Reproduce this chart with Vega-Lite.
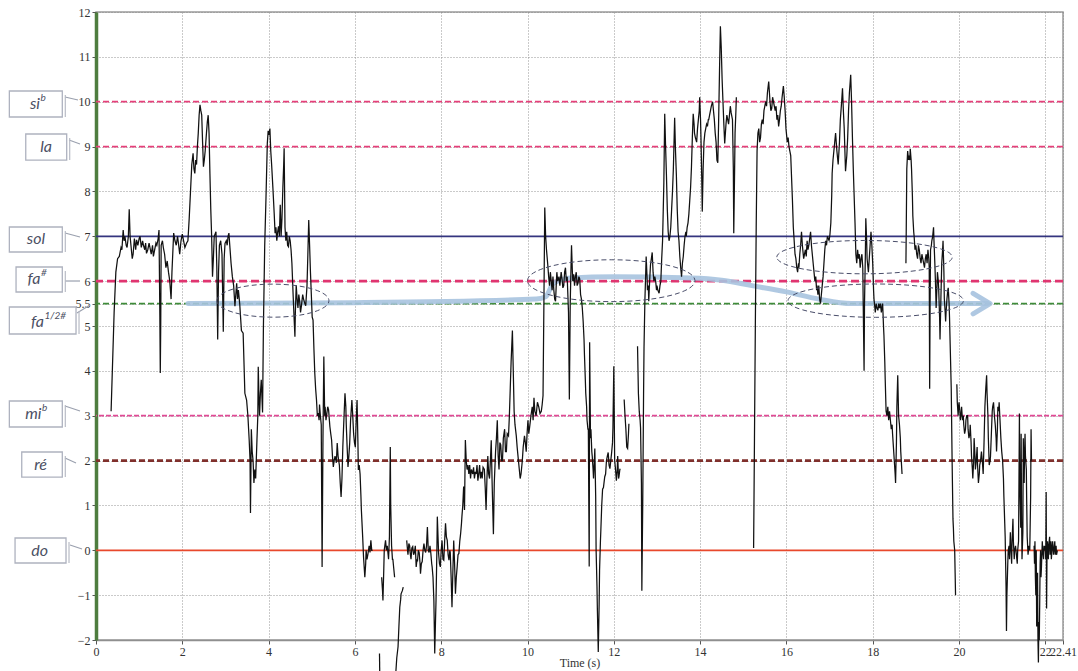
{
"$schema":"https://vega.github.io/schema/vega-lite/v6.json",
"width":967,"height":628,
"autosize":{"type":"none"},
"padding":{"left":96,"top":12,"right":15,"bottom":31},
"background":"white",
"config":{
 "view":{"stroke":"#9a9a9a","strokeWidth":1.5},
 "axis":{"labelFont":"Liberation Serif","labelFontSize":12,"labelColor":"#333333","titleFont":"Liberation Serif","titleFontSize":12,"titleFontWeight":"normal","titleColor":"#333333","gridColor":"#8a8a8a","gridDash":[1,2],"gridWidth":1,"gridOpacity":0.9,"tickColor":"#555555","tickSize":4}
},
"datasets":{
 "notes":[{"note":"si","v":10},{"note":"la","v":9},{"note":"sol","v":7},{"note":"fa#","v":6},{"note":"fa½#","v":5.5},{"note":"mi","v":3},{"note":"re","v":2},{"note":"do","v":0}],
 "labels":[
  {"label":"si","sup":"b","jx":-1.297,"ty":9.95,"bx1":-2.008,"bx2":-0.781,"by1":10.239,"by2":9.659,"cx1":-0.718,"cy1":10.105,"cx2":-0.417,"cy2":10.038},
  {"label":"la","sup":"","jx":-1.019,"ty":8.99,"bx1":-1.628,"bx2":-0.679,"by1":9.28,"by2":8.7,"cx1":-0.625,"cy1":9.146,"cx2":-0.371,"cy2":9.057},
  {"label":"sol","sup":"","jx":-1.181,"ty":6.93,"bx1":-2.008,"bx2":-0.781,"by1":7.207,"by2":6.65,"cx1":-0.718,"cy1":7.073,"cx2":-0.371,"cy2":6.984},
  {"label":"fa","sup":"#","jx":-1.286,"ty":6.04,"bx1":-1.853,"bx2":-0.781,"by1":6.315,"by2":5.758,"cx1":-0.718,"cy1":6.003,"cx2":-0.371,"cy2":6.003},
  {"label":"fa","sup":"1/2#","jx":-1.205,"ty":5.09,"bx1":-2.008,"bx2":-0.463,"by1":5.424,"by2":4.822,"cx1":-0.44,"cy1":5.29,"cx2":-0.139,"cy2":5.468},
  {"label":"mi","sup":"b","jx":-1.262,"ty":3.04,"bx1":-2.008,"bx2":-0.781,"by1":3.328,"by2":2.748,"cx1":-0.718,"cy1":3.217,"cx2":-0.371,"cy2":3.105},
  {"label":"ré","sup":"","jx":-1.135,"ty":1.9,"bx1":-1.721,"bx2":-0.781,"by1":2.191,"by2":1.633,"cx1":-0.718,"cy1":2.057,"cx2":-0.463,"cy2":1.946},
  {"label":"do","sup":"","jx":-1.112,"ty":-0.01,"bx1":-1.876,"bx2":-0.695,"by1":0.274,"by2":-0.283,"cx1":-0.602,"cy1":0.118,"cx2":-0.324,"cy2":0.029}
 ],
 "ellipses":[{"id":1,"t":4.1,"v":5.565},{"id":2,"t":11.94,"v":6.01},{"id":3,"t":17.81,"v":6.535},{"id":4,"t":18.07,"v":5.565}],
 "arrow":[{"t":2.13,"v":5.5},{"t":6.0,"v":5.52},{"t":10.2,"v":5.6},{"t":10.42,"v":5.65},{"t":10.6,"v":5.95},{"t":11.0,"v":6.07},{"t":12.0,"v":6.1},{"t":13.8,"v":6.07},{"t":14.5,"v":6.02},{"t":15.2,"v":5.9},{"t":16.0,"v":5.76},{"t":16.75,"v":5.6},{"t":17.5,"v":5.5},{"t":20.66,"v":5.5}],
 "tip":[{"t":20.72,"v":5.5}],
 "trace":[
{"t":0.35,"v":3.1,"s":1},{"t":0.42,"v":5.3,"s":1},{"t":0.46,"v":6.2,"s":1},{"t":0.5,"v":6.5,"s":1},{"t":0.54,"v":6.55,"s":1},{"t":0.58,"v":6.75,"s":1},{"t":0.6,"v":6.7,"s":1},{"t":0.63,"v":7.14,"s":1},{"t":0.65,"v":6.9,"s":1},{"t":0.67,"v":7.0,"s":1},{"t":0.7,"v":6.8,"s":1},{"t":0.72,"v":6.75,"s":1},{"t":0.75,"v":7.0,"s":1},{"t":0.77,"v":7.6,"s":1},{"t":0.79,"v":7.0,"s":1},{"t":0.81,"v":6.8,"s":1},{"t":0.84,"v":6.5,"s":1},{"t":0.86,"v":6.6,"s":1},{"t":0.89,"v":6.95,"s":1},{"t":0.92,"v":6.7,"s":1},{"t":0.94,"v":6.92,"s":1},{"t":0.97,"v":6.8,"s":1},{"t":1.0,"v":6.95,"s":1},{"t":1.02,"v":7.0,"s":1},{"t":1.05,"v":6.75,"s":1},{"t":1.08,"v":6.9,"s":1},{"t":1.1,"v":6.8,"s":1},{"t":1.13,"v":6.7,"s":1},{"t":1.15,"v":6.85,"s":1},{"t":1.17,"v":6.62,"s":1},{"t":1.2,"v":6.7,"s":1},{"t":1.23,"v":6.85,"s":1},{"t":1.25,"v":6.75,"s":1},{"t":1.28,"v":6.6,"s":1},{"t":1.31,"v":6.8,"s":1},{"t":1.33,"v":6.55,"s":1},{"t":1.36,"v":6.7,"s":1},{"t":1.39,"v":6.85,"s":1},{"t":1.41,"v":6.8,"s":1},{"t":1.44,"v":6.95,"s":1},{"t":1.46,"v":7.14,"s":1},{"t":1.48,"v":5.2,"s":1},{"t":1.49,"v":3.95,"s":1},{"t":1.5,"v":5.0,"s":1},{"t":1.51,"v":6.8,"s":1},{"t":1.54,"v":6.9,"s":1},{"t":1.56,"v":6.75,"s":1},{"t":1.59,"v":6.6,"s":1},{"t":1.62,"v":6.3,"s":1},{"t":1.65,"v":6.45,"s":1},{"t":1.68,"v":6.2,"s":1},{"t":1.71,"v":6.0,"s":1},{"t":1.74,"v":5.6,"s":1},{"t":1.76,"v":6.2,"s":1},{"t":1.8,"v":7.07,"s":1},{"t":1.83,"v":6.9,"s":1},{"t":1.86,"v":6.8,"s":1},{"t":1.89,"v":7.0,"s":1},{"t":1.91,"v":6.85,"s":1},{"t":1.94,"v":6.6,"s":1},{"t":1.97,"v":6.9,"s":1},{"t":2.0,"v":7.05,"s":1},{"t":2.03,"v":6.9,"s":1},{"t":2.06,"v":6.75,"s":1},{"t":2.1,"v":6.85,"s":1},{"t":2.13,"v":6.9,"s":1},{"t":2.16,"v":7.4,"s":1},{"t":2.19,"v":8.0,"s":1},{"t":2.22,"v":8.6,"s":1},{"t":2.25,"v":8.85,"s":1},{"t":2.27,"v":8.5,"s":1},{"t":2.29,"v":8.4,"s":1},{"t":2.31,"v":8.7,"s":1},{"t":2.33,"v":8.6,"s":1},{"t":2.35,"v":9.0,"s":1},{"t":2.37,"v":9.3,"s":1},{"t":2.39,"v":9.7,"s":1},{"t":2.41,"v":9.93,"s":1},{"t":2.43,"v":9.8,"s":1},{"t":2.45,"v":9.7,"s":1},{"t":2.47,"v":9.1,"s":1},{"t":2.49,"v":8.55,"s":1},{"t":2.51,"v":8.7,"s":1},{"t":2.53,"v":8.9,"s":1},{"t":2.56,"v":9.3,"s":1},{"t":2.58,"v":9.55,"s":1},{"t":2.6,"v":9.7,"s":1},{"t":2.62,"v":9.3,"s":1},{"t":2.64,"v":8.4,"s":1},{"t":2.66,"v":7.6,"s":1},{"t":2.68,"v":7.0,"s":1},{"t":2.7,"v":6.1,"s":1},{"t":2.72,"v":6.5,"s":1},{"t":2.74,"v":7.0,"s":1},{"t":2.78,"v":7.1,"s":1},{"t":2.8,"v":6.3,"s":1},{"t":2.82,"v":4.7,"s":1},{"t":2.84,"v":6.2,"s":1},{"t":2.86,"v":6.8,"s":1},{"t":2.89,"v":6.9,"s":1},{"t":2.92,"v":6.6,"s":1},{"t":2.95,"v":4.87,"s":1},{"t":2.97,"v":6.5,"s":1},{"t":2.99,"v":6.84,"s":1},{"t":3.02,"v":6.9,"s":1},{"t":3.04,"v":6.8,"s":1},{"t":3.06,"v":7.0,"s":1},{"t":3.08,"v":7.07,"s":1},{"t":3.1,"v":6.8,"s":1},{"t":3.13,"v":6.4,"s":1},{"t":3.16,"v":6.1,"s":1},{"t":3.19,"v":5.9,"s":1},{"t":3.22,"v":5.44,"s":1},{"t":3.24,"v":5.7,"s":1},{"t":3.26,"v":5.95,"s":1},{"t":3.28,"v":5.6,"s":1},{"t":3.3,"v":5.8,"s":1},{"t":3.33,"v":5.5,"s":1},{"t":3.35,"v":5.2,"s":1},{"t":3.37,"v":4.9,"s":1},{"t":3.41,"v":4.84,"s":1},{"t":3.45,"v":3.5,"s":1},{"t":3.49,"v":3.35,"s":1},{"t":3.52,"v":3.0,"s":1},{"t":3.55,"v":2.46,"s":1},{"t":3.57,"v":2.0,"s":1},{"t":3.58,"v":0.83,"s":1},{"t":3.6,"v":2.7,"s":1},{"t":3.62,"v":2.2,"s":1},{"t":3.64,"v":2.0,"s":1},{"t":3.66,"v":1.5,"s":1},{"t":3.68,"v":1.8,"s":1},{"t":3.7,"v":1.6,"s":1},{"t":3.73,"v":2.46,"s":1},{"t":3.75,"v":3.0,"s":1},{"t":3.76,"v":4.09,"s":1},{"t":3.78,"v":3.3,"s":1},{"t":3.79,"v":3.0,"s":1},{"t":3.81,"v":3.5,"s":1},{"t":3.83,"v":3.8,"s":1},{"t":3.85,"v":3.3,"s":1},{"t":3.86,"v":3.07,"s":1},{"t":3.88,"v":5.0,"s":1},{"t":3.91,"v":6.8,"s":1},{"t":3.94,"v":7.88,"s":1},{"t":3.97,"v":9.07,"s":1},{"t":3.99,"v":9.35,"s":1},{"t":4.01,"v":9.26,"s":1},{"t":4.03,"v":9.4,"s":1},{"t":4.05,"v":8.9,"s":1},{"t":4.07,"v":8.6,"s":1},{"t":4.1,"v":8.07,"s":1},{"t":4.13,"v":7.5,"s":1},{"t":4.15,"v":7.07,"s":1},{"t":4.17,"v":7.2,"s":1},{"t":4.19,"v":6.9,"s":1},{"t":4.21,"v":7.1,"s":1},{"t":4.23,"v":7.22,"s":1},{"t":4.25,"v":7.0,"s":1},{"t":4.27,"v":7.7,"s":1},{"t":4.29,"v":7.0,"s":1},{"t":4.31,"v":7.4,"s":1},{"t":4.33,"v":8.07,"s":1},{"t":4.35,"v":8.6,"s":1},{"t":4.36,"v":8.96,"s":1},{"t":4.38,"v":7.2,"s":1},{"t":4.4,"v":6.9,"s":1},{"t":4.42,"v":7.1,"s":1},{"t":4.44,"v":6.8,"s":1},{"t":4.46,"v":6.77,"s":1},{"t":4.48,"v":7.0,"s":1},{"t":4.5,"v":6.9,"s":1},{"t":4.52,"v":6.7,"s":1},{"t":4.54,"v":6.4,"s":1},{"t":4.57,"v":5.65,"s":1},{"t":4.59,"v":5.2,"s":1},{"t":4.61,"v":4.76,"s":1},{"t":4.62,"v":5.3,"s":1},{"t":4.64,"v":5.91,"s":1},{"t":4.66,"v":5.6,"s":1},{"t":4.68,"v":5.4,"s":1},{"t":4.7,"v":5.7,"s":1},{"t":4.72,"v":5.55,"s":1},{"t":4.74,"v":5.3,"s":1},{"t":4.76,"v":5.45,"s":1},{"t":4.79,"v":5.7,"s":1},{"t":4.81,"v":5.6,"s":1},{"t":4.84,"v":5.5,"s":1},{"t":4.86,"v":5.45,"s":1},{"t":4.89,"v":5.9,"s":1},{"t":4.91,"v":6.6,"s":1},{"t":4.93,"v":7.36,"s":1},{"t":4.95,"v":6.8,"s":1},{"t":4.97,"v":6.2,"s":1},{"t":4.99,"v":5.7,"s":1},{"t":5.01,"v":5.2,"s":1},{"t":5.03,"v":5.13,"s":1},{"t":5.05,"v":4.5,"s":1},{"t":5.07,"v":3.95,"s":1},{"t":5.09,"v":3.6,"s":1},{"t":5.11,"v":3.35,"s":1},{"t":5.13,"v":3.0,"s":1},{"t":5.15,"v":3.06,"s":1},{"t":5.17,"v":2.9,"s":1},{"t":5.18,"v":3.25,"s":1},{"t":5.2,"v":3.0,"s":1},{"t":5.22,"v":2.8,"s":1},{"t":5.24,"v":-0.37,"s":1},{"t":5.26,"v":2.5,"s":1},{"t":5.28,"v":4.32,"s":1},{"t":5.3,"v":3.0,"s":1},{"t":5.31,"v":3.2,"s":1},{"t":5.33,"v":2.9,"s":1},{"t":5.35,"v":3.05,"s":1},{"t":5.37,"v":3.2,"s":1},{"t":5.39,"v":3.13,"s":1},{"t":5.42,"v":2.76,"s":1},{"t":5.44,"v":2.6,"s":1},{"t":5.46,"v":2.46,"s":1},{"t":5.48,"v":2.1,"s":1},{"t":5.5,"v":1.86,"s":1},{"t":5.52,"v":2.0,"s":1},{"t":5.54,"v":2.1,"s":1},{"t":5.57,"v":1.95,"s":1},{"t":5.59,"v":2.39,"s":1},{"t":5.61,"v":2.1,"s":1},{"t":5.64,"v":1.9,"s":1},{"t":5.66,"v":1.5,"s":1},{"t":5.68,"v":1.19,"s":1},{"t":5.7,"v":1.6,"s":1},{"t":5.72,"v":2.3,"s":1},{"t":5.74,"v":2.8,"s":1},{"t":5.77,"v":3.5,"s":1},{"t":5.79,"v":3.2,"s":1},{"t":5.8,"v":2.8,"s":1},{"t":5.82,"v":2.3,"s":1},{"t":5.84,"v":1.86,"s":1},{"t":5.86,"v":2.1,"s":1},{"t":5.88,"v":2.4,"s":1},{"t":5.9,"v":2.9,"s":1},{"t":5.93,"v":3.35,"s":1},{"t":5.95,"v":3.0,"s":1},{"t":5.97,"v":2.6,"s":1},{"t":5.99,"v":2.4,"s":1},{"t":6.01,"v":2.3,"s":1},{"t":6.03,"v":2.9,"s":1},{"t":6.05,"v":3.35,"s":1},{"t":6.07,"v":2.4,"s":1},{"t":6.08,"v":1.79,"s":1},{"t":6.1,"v":1.9,"s":1},{"t":6.12,"v":1.7,"s":1},{"t":6.14,"v":1.2,"s":1},{"t":6.15,"v":0.9,"s":1},{"t":6.18,"v":0.3,"s":1},{"t":6.2,"v":-0.15,"s":1},{"t":6.23,"v":-0.6,"s":1},{"t":6.25,"v":-0.3,"s":1},{"t":6.26,"v":0.0,"s":1},{"t":6.28,"v":-0.2,"s":1},{"t":6.3,"v":-0.1,"s":1},{"t":6.33,"v":0.1,"s":1},{"t":6.35,"v":-0.05,"s":1},{"t":6.37,"v":0.22,"s":1},{"t":6.39,"v":0.0,"s":1},{"t":6.41,"v":0.0,"s":1},
{"t":6.62,"v":-0.6,"s":2},{"t":6.64,"v":-0.9,"s":2},{"t":6.65,"v":-1.12,"s":2},{"t":6.67,"v":-0.4,"s":2},{"t":6.68,"v":0.0,"s":2},{"t":6.71,"v":0.22,"s":2},{"t":6.73,"v":0.0,"s":2},{"t":6.75,"v":0.1,"s":2},{"t":6.77,"v":-0.1,"s":2},{"t":6.78,"v":-0.2,"s":2},{"t":6.8,"v":0.3,"s":2},{"t":6.82,"v":2.3,"s":2},{"t":6.83,"v":1.0,"s":2},{"t":6.85,"v":0.1,"s":2},{"t":6.87,"v":-0.2,"s":2},{"t":6.88,"v":-0.2,"s":2},{"t":6.9,"v":-0.4,"s":2},{"t":6.92,"v":-0.6,"s":2},
{"t":6.57,"v":-2.3,"s":3},{"t":6.575,"v":-2.7,"s":3},
{"t":6.95,"v":-2.7,"s":4},{"t":6.97,"v":-2.4,"s":4},{"t":7.0,"v":-2.15,"s":4},{"t":7.02,"v":-1.7,"s":4},{"t":7.04,"v":-1.27,"s":4},{"t":7.06,"v":-1.1,"s":4},{"t":7.07,"v":-0.97,"s":4},{"t":7.1,"v":-0.9,"s":4},{"t":7.12,"v":-0.82,"s":4},
{"t":7.2,"v":0.22,"s":5},{"t":7.22,"v":0.0,"s":5},{"t":7.23,"v":-0.1,"s":5},{"t":7.25,"v":0.15,"s":5},{"t":7.27,"v":0.1,"s":5},{"t":7.28,"v":-0.05,"s":5},{"t":7.3,"v":-0.2,"s":5},{"t":7.32,"v":0.05,"s":5},{"t":7.34,"v":0.08,"s":5},{"t":7.36,"v":-0.1,"s":5},{"t":7.38,"v":-0.05,"s":5},{"t":7.4,"v":0.1,"s":5},{"t":7.42,"v":-0.37,"s":5},{"t":7.44,"v":-0.2,"s":5},{"t":7.45,"v":-0.25,"s":5},{"t":7.47,"v":0.0,"s":5},{"t":7.49,"v":-0.05,"s":5},{"t":7.51,"v":-0.3,"s":5},{"t":7.52,"v":-0.52,"s":5},{"t":7.54,"v":-0.3,"s":5},{"t":7.56,"v":-0.25,"s":5},{"t":7.58,"v":0.0,"s":5},{"t":7.6,"v":0.15,"s":5},{"t":7.62,"v":0.0,"s":5},{"t":7.64,"v":-0.05,"s":5},{"t":7.66,"v":0.1,"s":5},{"t":7.68,"v":0.52,"s":5},{"t":7.7,"v":0.0,"s":5},{"t":7.72,"v":-0.05,"s":5},{"t":7.74,"v":0.1,"s":5},{"t":7.76,"v":-0.07,"s":5},{"t":7.78,"v":-0.3,"s":5},{"t":7.79,"v":-0.37,"s":5},{"t":7.81,"v":-0.6,"s":5},{"t":7.83,"v":-1.12,"s":5},{"t":7.85,"v":-2.3,"s":5},{"t":7.87,"v":-1.5,"s":5},{"t":7.88,"v":-1.12,"s":5},{"t":7.9,"v":0.0,"s":5},{"t":7.91,"v":0.75,"s":5},{"t":7.93,"v":0.2,"s":5},{"t":7.94,"v":-0.07,"s":5},{"t":7.96,"v":-0.3,"s":5},{"t":7.98,"v":-0.37,"s":5},{"t":8.0,"v":0.0,"s":5},{"t":8.02,"v":0.22,"s":5},{"t":8.04,"v":-0.2,"s":5},{"t":8.06,"v":-0.22,"s":5},{"t":8.08,"v":0.2,"s":5},{"t":8.1,"v":0.6,"s":5},{"t":8.12,"v":0.3,"s":5},{"t":8.14,"v":0.22,"s":5},{"t":8.16,"v":-0.1,"s":5},{"t":8.18,"v":-0.22,"s":5},{"t":8.2,"v":0.0,"s":5},{"t":8.21,"v":-0.05,"s":5},{"t":8.23,"v":-0.6,"s":5},{"t":8.25,"v":-1.27,"s":5},{"t":8.27,"v":-0.5,"s":5},{"t":8.29,"v":0.22,"s":5},{"t":8.31,"v":-0.3,"s":5},{"t":8.33,"v":-0.97,"s":5},{"t":8.35,"v":-0.6,"s":5},{"t":8.37,"v":-0.37,"s":5},{"t":8.39,"v":-0.1,"s":5},{"t":8.41,"v":-0.07,"s":5},{"t":8.43,"v":0.2,"s":5},{"t":8.45,"v":0.37,"s":5},{"t":8.47,"v":0.6,"s":5},{"t":8.48,"v":0.75,"s":5},{"t":8.5,"v":1.0,"s":5},{"t":8.52,"v":1.42,"s":5},{"t":8.54,"v":0.9,"s":5},{"t":8.56,"v":2.46,"s":5},{"t":8.58,"v":2.0,"s":5},{"t":8.6,"v":1.8,"s":5},{"t":8.62,"v":1.9,"s":5},{"t":8.64,"v":1.7,"s":5},{"t":8.66,"v":1.9,"s":5},{"t":8.68,"v":1.6,"s":5},{"t":8.7,"v":1.8,"s":5},{"t":8.73,"v":1.7,"s":5},{"t":8.75,"v":1.85,"s":5},{"t":8.77,"v":1.6,"s":5},{"t":8.79,"v":1.75,"s":5},{"t":8.81,"v":1.7,"s":5},{"t":8.83,"v":1.9,"s":5},{"t":8.85,"v":1.55,"s":5},{"t":8.87,"v":1.7,"s":5},{"t":8.89,"v":1.9,"s":5},{"t":8.91,"v":1.6,"s":5},{"t":8.93,"v":1.75,"s":5},{"t":8.95,"v":1.6,"s":5},{"t":8.97,"v":1.85,"s":5},{"t":9.0,"v":1.8,"s":5},{"t":9.02,"v":1.4,"s":5},{"t":9.04,"v":0.9,"s":5},{"t":9.06,"v":1.6,"s":5},{"t":9.08,"v":2.1,"s":5},{"t":9.1,"v":1.7,"s":5},{"t":9.12,"v":1.6,"s":5},{"t":9.14,"v":2.0,"s":5},{"t":9.16,"v":2.45,"s":5},{"t":9.18,"v":1.5,"s":5},{"t":9.21,"v":0.36,"s":5},{"t":9.23,"v":1.5,"s":5},{"t":9.26,"v":2.2,"s":5},{"t":9.28,"v":2.5,"s":5},{"t":9.3,"v":2.9,"s":5},{"t":9.32,"v":2.1,"s":5},{"t":9.34,"v":1.8,"s":5},{"t":9.36,"v":2.4,"s":5},{"t":9.38,"v":2.35,"s":5},{"t":9.4,"v":2.0,"s":5},{"t":9.42,"v":2.0,"s":5},{"t":9.44,"v":2.5,"s":5},{"t":9.47,"v":2.7,"s":5},{"t":9.49,"v":2.2,"s":5},{"t":9.51,"v":2.2,"s":5},{"t":9.53,"v":2.6,"s":5},{"t":9.56,"v":2.55,"s":5},{"t":9.58,"v":3.0,"s":5},{"t":9.6,"v":3.6,"s":5},{"t":9.62,"v":4.2,"s":5},{"t":9.65,"v":4.9,"s":5},{"t":9.67,"v":4.0,"s":5},{"t":9.69,"v":3.1,"s":5},{"t":9.71,"v":2.8,"s":5},{"t":9.74,"v":2.55,"s":5},{"t":9.76,"v":2.3,"s":5},{"t":9.79,"v":2.0,"s":5},{"t":9.81,"v":1.8,"s":5},{"t":9.83,"v":1.6,"s":5},{"t":9.85,"v":1.7,"s":5},{"t":9.88,"v":2.0,"s":5},{"t":9.9,"v":2.3,"s":5},{"t":9.93,"v":2.55,"s":5},{"t":9.95,"v":2.4,"s":5},{"t":9.97,"v":2.2,"s":5},{"t":9.99,"v":2.6,"s":5},{"t":10.01,"v":2.9,"s":5},{"t":10.03,"v":2.6,"s":5},{"t":10.05,"v":2.75,"s":5},{"t":10.08,"v":3.0,"s":5},{"t":10.11,"v":3.2,"s":5},{"t":10.13,"v":2.9,"s":5},{"t":10.15,"v":3.4,"s":5},{"t":10.17,"v":3.1,"s":5},{"t":10.2,"v":3.0,"s":5},{"t":10.23,"v":3.3,"s":5},{"t":10.26,"v":3.2,"s":5},{"t":10.29,"v":3.05,"s":5},{"t":10.32,"v":3.1,"s":5},{"t":10.34,"v":3.25,"s":5},{"t":10.36,"v":3.45,"s":5},{"t":10.38,"v":5.5,"s":5},{"t":10.4,"v":7.64,"s":5},{"t":10.42,"v":7.0,"s":5},{"t":10.44,"v":6.7,"s":5},{"t":10.47,"v":6.36,"s":5},{"t":10.49,"v":6.1,"s":5},{"t":10.51,"v":5.9,"s":5},{"t":10.53,"v":6.2,"s":5},{"t":10.55,"v":6.0,"s":5},{"t":10.57,"v":5.8,"s":5},{"t":10.59,"v":6.1,"s":5},{"t":10.61,"v":5.8,"s":5},{"t":10.63,"v":5.6,"s":5},{"t":10.65,"v":5.55,"s":5},{"t":10.67,"v":6.0,"s":5},{"t":10.68,"v":6.2,"s":5},{"t":10.7,"v":6.0,"s":5},{"t":10.73,"v":6.1,"s":5},{"t":10.75,"v":5.9,"s":5},{"t":10.78,"v":6.2,"s":5},{"t":10.8,"v":6.05,"s":5},{"t":10.82,"v":5.85,"s":5},{"t":10.84,"v":5.9,"s":5},{"t":10.86,"v":6.2,"s":5},{"t":10.88,"v":6.3,"s":5},{"t":10.9,"v":6.0,"s":5},{"t":10.92,"v":6.1,"s":5},{"t":10.95,"v":5.3,"s":5},{"t":10.97,"v":3.36,"s":5},{"t":10.99,"v":5.5,"s":5},{"t":11.01,"v":6.4,"s":5},{"t":11.02,"v":6.8,"s":5},{"t":11.04,"v":6.2,"s":5},{"t":11.05,"v":6.0,"s":5},{"t":11.07,"v":6.15,"s":5},{"t":11.09,"v":5.9,"s":5},{"t":11.11,"v":6.1,"s":5},{"t":11.13,"v":6.2,"s":5},{"t":11.15,"v":5.9,"s":5},{"t":11.17,"v":5.95,"s":5},{"t":11.19,"v":6.1,"s":5},{"t":11.21,"v":6.05,"s":5},{"t":11.23,"v":5.7,"s":5},{"t":11.25,"v":5.6,"s":5},{"t":11.27,"v":5.4,"s":5},{"t":11.29,"v":5.1,"s":5},{"t":11.31,"v":4.7,"s":5},{"t":11.32,"v":4.36,"s":5},{"t":11.34,"v":3.8,"s":5},{"t":11.35,"v":3.5,"s":5},{"t":11.37,"v":3.2,"s":5},{"t":11.38,"v":2.9,"s":5},{"t":11.4,"v":2.7,"s":5},{"t":11.41,"v":2.7,"s":5},{"t":11.43,"v":-0.36,"s":5},{"t":11.44,"v":4.64,"s":5},{"t":11.46,"v":2.5,"s":5},{"t":11.47,"v":2.7,"s":5},{"t":11.49,"v":2.2,"s":5},{"t":11.5,"v":2.1,"s":5},{"t":11.52,"v":1.8,"s":5},{"t":11.53,"v":1.6,"s":5},{"t":11.55,"v":2.0,"s":5},{"t":11.56,"v":2.27,"s":5},{"t":11.58,"v":1.2,"s":5},{"t":11.59,"v":0.0,"s":5},{"t":11.61,"v":-0.8,"s":5},{"t":11.62,"v":-1.36,"s":5},{"t":11.64,"v":-2.27,"s":5},{"t":11.66,"v":-1.2,"s":5},{"t":11.67,"v":-0.45,"s":5},{"t":11.69,"v":0.2,"s":5},{"t":11.7,"v":0.45,"s":5},{"t":11.72,"v":1.0,"s":5},{"t":11.74,"v":1.36,"s":5},{"t":11.76,"v":1.4,"s":5},{"t":11.79,"v":1.64,"s":5},{"t":11.81,"v":1.7,"s":5},{"t":11.83,"v":2.0,"s":5},{"t":11.85,"v":2.1,"s":5},{"t":11.87,"v":2.18,"s":5},{"t":11.89,"v":1.9,"s":5},{"t":11.91,"v":1.82,"s":5},{"t":11.93,"v":2.0,"s":5},{"t":11.95,"v":2.18,"s":5},{"t":11.97,"v":2.4,"s":5},{"t":11.98,"v":2.73,"s":5},{"t":12.0,"v":4.1,"s":5},{"t":12.02,"v":2.0,"s":5},{"t":12.04,"v":1.8,"s":5},{"t":12.06,"v":1.55,"s":5},{"t":12.08,"v":1.8,"s":5},{"t":12.09,"v":2.1,"s":5},{"t":12.11,"v":1.6,"s":5},{"t":12.12,"v":1.64,"s":5},{"t":12.14,"v":1.8,"s":5},{"t":12.15,"v":1.82,"s":5},
{"t":12.24,"v":3.36,"s":6},{"t":12.26,"v":3.0,"s":6},{"t":12.28,"v":2.7,"s":6},{"t":12.3,"v":2.3,"s":6},{"t":12.32,"v":2.27,"s":6},{"t":12.34,"v":2.6,"s":6},{"t":12.35,"v":2.82,"s":6},
{"t":12.55,"v":4.55,"s":7},{"t":12.57,"v":3.5,"s":7},{"t":12.59,"v":3.09,"s":7},{"t":12.61,"v":2.9,"s":7},{"t":12.62,"v":2.73,"s":7},{"t":12.64,"v":1.5,"s":7},{"t":12.65,"v":-0.9,"s":7},{"t":12.67,"v":1.0,"s":7},{"t":12.69,"v":3.5,"s":7},{"t":12.7,"v":4.5,"s":7},{"t":12.72,"v":5.55,"s":7},{"t":12.74,"v":6.2,"s":7},{"t":12.75,"v":6.55,"s":7},{"t":12.77,"v":6.1,"s":7},{"t":12.78,"v":5.8,"s":7},{"t":12.8,"v":5.9,"s":7},{"t":12.81,"v":5.55,"s":7},{"t":12.83,"v":6.0,"s":7},{"t":12.85,"v":6.36,"s":7},{"t":12.87,"v":6.5,"s":7},{"t":12.89,"v":6.64,"s":7},{"t":12.91,"v":6.2,"s":7},{"t":12.93,"v":6.0,"s":7},{"t":12.95,"v":6.1,"s":7},{"t":12.97,"v":6.0,"s":7},{"t":12.99,"v":5.8,"s":7},{"t":13.0,"v":5.9,"s":7},{"t":13.02,"v":5.8,"s":7},{"t":13.05,"v":5.73,"s":7},{"t":13.07,"v":5.9,"s":7},{"t":13.09,"v":6.0,"s":7},{"t":13.11,"v":6.5,"s":7},{"t":13.13,"v":6.9,"s":7},{"t":13.16,"v":8.2,"s":7},{"t":13.18,"v":9.73,"s":7},{"t":13.2,"v":9.0,"s":7},{"t":13.22,"v":8.36,"s":7},{"t":13.24,"v":7.6,"s":7},{"t":13.26,"v":7.1,"s":7},{"t":13.28,"v":6.9,"s":7},{"t":13.3,"v":7.0,"s":7},{"t":13.32,"v":7.2,"s":7},{"t":13.34,"v":7.6,"s":7},{"t":13.36,"v":8.0,"s":7},{"t":13.38,"v":8.5,"s":7},{"t":13.41,"v":9.64,"s":7},{"t":13.43,"v":8.9,"s":7},{"t":13.45,"v":8.36,"s":7},{"t":13.47,"v":7.6,"s":7},{"t":13.49,"v":7.1,"s":7},{"t":13.51,"v":6.9,"s":7},{"t":13.53,"v":6.55,"s":7},{"t":13.55,"v":6.3,"s":7},{"t":13.57,"v":6.1,"s":7},{"t":13.59,"v":6.4,"s":7},{"t":13.61,"v":6.55,"s":7},{"t":13.63,"v":6.8,"s":7},{"t":13.65,"v":7.0,"s":7},{"t":13.67,"v":7.1,"s":7},{"t":13.68,"v":7.0,"s":7},{"t":13.7,"v":7.2,"s":7},{"t":13.72,"v":7.3,"s":7},{"t":13.74,"v":7.5,"s":7},{"t":13.76,"v":7.8,"s":7},{"t":13.78,"v":8.1,"s":7},{"t":13.8,"v":8.55,"s":7},{"t":13.82,"v":9.2,"s":7},{"t":13.84,"v":9.73,"s":7},{"t":13.86,"v":9.5,"s":7},{"t":13.87,"v":9.3,"s":7},{"t":13.89,"v":9.2,"s":7},{"t":13.92,"v":9.1,"s":7},{"t":13.94,"v":9.4,"s":7},{"t":13.96,"v":9.6,"s":7},{"t":13.98,"v":9.8,"s":7},{"t":13.99,"v":10.1,"s":7},{"t":14.01,"v":9.6,"s":7},{"t":14.02,"v":9.2,"s":7},{"t":14.04,"v":8.2,"s":7},{"t":14.05,"v":7.55,"s":7},{"t":14.07,"v":8.5,"s":7},{"t":14.09,"v":9.1,"s":7},{"t":14.11,"v":9.3,"s":7},{"t":14.13,"v":9.4,"s":7},{"t":14.15,"v":9.5,"s":7},{"t":14.17,"v":9.45,"s":7},{"t":14.19,"v":9.6,"s":7},{"t":14.2,"v":9.6,"s":7},{"t":14.22,"v":9.7,"s":7},{"t":14.24,"v":9.8,"s":7},{"t":14.26,"v":9.9,"s":7},{"t":14.29,"v":10.0,"s":7},{"t":14.31,"v":9.8,"s":7},{"t":14.33,"v":9.6,"s":7},{"t":14.35,"v":9.3,"s":7},{"t":14.37,"v":9.1,"s":7},{"t":14.39,"v":8.7,"s":7},{"t":14.41,"v":8.64,"s":7},{"t":14.43,"v":9.6,"s":7},{"t":14.45,"v":10.7,"s":7},{"t":14.47,"v":11.68,"s":7},{"t":14.49,"v":11.2,"s":7},{"t":14.51,"v":10.5,"s":7},{"t":14.53,"v":10.0,"s":7},{"t":14.55,"v":9.5,"s":7},{"t":14.57,"v":9.07,"s":7},{"t":14.6,"v":9.5,"s":7},{"t":14.62,"v":9.7,"s":7},{"t":14.64,"v":9.6,"s":7},{"t":14.66,"v":9.5,"s":7},{"t":14.68,"v":9.7,"s":7},{"t":14.7,"v":9.9,"s":7},{"t":14.72,"v":9.75,"s":7},{"t":14.75,"v":9.6,"s":7},{"t":14.77,"v":8.5,"s":7},{"t":14.78,"v":7.07,"s":7},{"t":14.8,"v":8.5,"s":7},{"t":14.81,"v":9.3,"s":7},{"t":14.83,"v":9.8,"s":7},{"t":14.84,"v":10.1,"s":7},
{"t":15.24,"v":0.05,"s":8},{"t":15.26,"v":2.5,"s":8},{"t":15.28,"v":5.0,"s":8},{"t":15.3,"v":7.2,"s":8},{"t":15.32,"v":8.9,"s":8},{"t":15.34,"v":9.3,"s":8},{"t":15.36,"v":9.4,"s":8},{"t":15.38,"v":9.1,"s":8},{"t":15.4,"v":9.2,"s":8},{"t":15.42,"v":9.5,"s":8},{"t":15.44,"v":9.6,"s":8},{"t":15.46,"v":9.5,"s":8},{"t":15.48,"v":9.8,"s":8},{"t":15.5,"v":9.9,"s":8},{"t":15.52,"v":10.0,"s":8},{"t":15.54,"v":9.9,"s":8},{"t":15.56,"v":10.2,"s":8},{"t":15.59,"v":10.45,"s":8},{"t":15.62,"v":10.0,"s":8},{"t":15.64,"v":9.8,"s":8},{"t":15.66,"v":9.85,"s":8},{"t":15.68,"v":10.1,"s":8},{"t":15.7,"v":10.0,"s":8},{"t":15.72,"v":9.9,"s":8},{"t":15.74,"v":9.8,"s":8},{"t":15.76,"v":9.9,"s":8},{"t":15.78,"v":9.6,"s":8},{"t":15.8,"v":9.7,"s":8},{"t":15.82,"v":9.45,"s":8},{"t":15.84,"v":9.6,"s":8},{"t":15.86,"v":9.8,"s":8},{"t":15.88,"v":9.9,"s":8},{"t":15.9,"v":10.1,"s":8},{"t":15.93,"v":10.35,"s":8},{"t":15.95,"v":10.1,"s":8},{"t":15.97,"v":9.8,"s":8},{"t":15.99,"v":9.4,"s":8},{"t":16.02,"v":9.1,"s":8},{"t":16.04,"v":9.2,"s":8},{"t":16.06,"v":9.0,"s":8},{"t":16.08,"v":8.9,"s":8},{"t":16.1,"v":8.8,"s":8},{"t":16.12,"v":8.3,"s":8},{"t":16.14,"v":7.8,"s":8},{"t":16.16,"v":7.2,"s":8},{"t":16.18,"v":6.9,"s":8},{"t":16.2,"v":6.6,"s":8},{"t":16.22,"v":6.5,"s":8},{"t":16.24,"v":6.3,"s":8},{"t":16.26,"v":6.2,"s":8},{"t":16.28,"v":6.4,"s":8},{"t":16.29,"v":6.3,"s":8},{"t":16.31,"v":6.6,"s":8},{"t":16.33,"v":6.8,"s":8},{"t":16.35,"v":7.1,"s":8},{"t":16.37,"v":6.8,"s":8},{"t":16.4,"v":6.5,"s":8},{"t":16.42,"v":6.6,"s":8},{"t":16.44,"v":6.7,"s":8},{"t":16.46,"v":6.55,"s":8},{"t":16.48,"v":6.9,"s":8},{"t":16.5,"v":6.7,"s":8},{"t":16.52,"v":6.8,"s":8},{"t":16.54,"v":6.95,"s":8},{"t":16.56,"v":7.1,"s":8},{"t":16.58,"v":6.8,"s":8},{"t":16.6,"v":6.6,"s":8},{"t":16.62,"v":6.4,"s":8},{"t":16.64,"v":6.2,"s":8},{"t":16.66,"v":6.0,"s":8},{"t":16.68,"v":6.1,"s":8},{"t":16.7,"v":5.8,"s":8},{"t":16.71,"v":5.9,"s":8},{"t":16.73,"v":5.7,"s":8},{"t":16.75,"v":5.9,"s":8},{"t":16.77,"v":5.6,"s":8},{"t":16.79,"v":5.5,"s":8},{"t":16.81,"v":5.7,"s":8},{"t":16.83,"v":5.9,"s":8},{"t":16.85,"v":6.1,"s":8},{"t":16.87,"v":6.4,"s":8},{"t":16.89,"v":6.7,"s":8},{"t":16.91,"v":6.9,"s":8},{"t":16.93,"v":6.8,"s":8},{"t":16.95,"v":7.0,"s":8},{"t":16.97,"v":6.95,"s":8},{"t":16.99,"v":6.9,"s":8},{"t":17.01,"v":7.05,"s":8},{"t":17.03,"v":7.3,"s":8},{"t":17.05,"v":7.9,"s":8},{"t":17.06,"v":8.4,"s":8},{"t":17.08,"v":8.7,"s":8},{"t":17.1,"v":8.9,"s":8},{"t":17.12,"v":9.1,"s":8},{"t":17.14,"v":9.3,"s":8},{"t":17.17,"v":8.9,"s":8},{"t":17.2,"v":8.6,"s":8},{"t":17.23,"v":9.1,"s":8},{"t":17.25,"v":9.6,"s":8},{"t":17.28,"v":10.0,"s":8},{"t":17.3,"v":10.3,"s":8},{"t":17.32,"v":9.8,"s":8},{"t":17.34,"v":9.4,"s":8},{"t":17.37,"v":8.45,"s":8},{"t":17.4,"v":8.8,"s":8},{"t":17.42,"v":9.2,"s":8},{"t":17.44,"v":9.8,"s":8},{"t":17.46,"v":10.2,"s":8},{"t":17.49,"v":10.6,"s":8},{"t":17.51,"v":10.0,"s":8},{"t":17.53,"v":9.2,"s":8},{"t":17.55,"v":8.5,"s":8},{"t":17.57,"v":7.9,"s":8},{"t":17.59,"v":7.3,"s":8},{"t":17.61,"v":6.6,"s":8},{"t":17.63,"v":6.4,"s":8},{"t":17.65,"v":6.7,"s":8},{"t":17.67,"v":6.5,"s":8},{"t":17.69,"v":6.6,"s":8},{"t":17.71,"v":6.3,"s":8},{"t":17.73,"v":6.5,"s":8},{"t":17.75,"v":6.6,"s":8},{"t":17.77,"v":6.3,"s":8},{"t":17.78,"v":5.5,"s":8},{"t":17.8,"v":4.0,"s":8},{"t":17.81,"v":5.5,"s":8},{"t":17.83,"v":6.6,"s":8},{"t":17.84,"v":7.4,"s":8},{"t":17.86,"v":6.9,"s":8},{"t":17.87,"v":6.5,"s":8},{"t":17.89,"v":6.3,"s":8},{"t":17.9,"v":6.2,"s":8},{"t":17.92,"v":6.5,"s":8},{"t":17.94,"v":6.8,"s":8},{"t":17.96,"v":7.1,"s":8},{"t":17.98,"v":6.8,"s":8},{"t":18.0,"v":6.4,"s":8},{"t":18.02,"v":5.8,"s":8},{"t":18.03,"v":5.6,"s":8},{"t":18.05,"v":5.4,"s":8},{"t":18.06,"v":5.3,"s":8},{"t":18.08,"v":5.5,"s":8},{"t":18.1,"v":5.4,"s":8},{"t":18.12,"v":5.35,"s":8},{"t":18.14,"v":5.5,"s":8},{"t":18.16,"v":5.4,"s":8},{"t":18.18,"v":5.5,"s":8},{"t":18.2,"v":5.3,"s":8},{"t":18.22,"v":5.45,"s":8},{"t":18.23,"v":5.5,"s":8},{"t":18.25,"v":5.0,"s":8},{"t":18.26,"v":4.8,"s":8},{"t":18.28,"v":4.2,"s":8},{"t":18.29,"v":3.8,"s":8},{"t":18.31,"v":3.1,"s":8},{"t":18.33,"v":3.0,"s":8},{"t":18.35,"v":3.2,"s":8},{"t":18.37,"v":2.9,"s":8},{"t":18.39,"v":3.1,"s":8},{"t":18.4,"v":3.0,"s":8},{"t":18.42,"v":2.8,"s":8},{"t":18.43,"v":2.7,"s":8},{"t":18.45,"v":2.8,"s":8},{"t":18.46,"v":2.6,"s":8},{"t":18.48,"v":2.3,"s":8},{"t":18.5,"v":2.0,"s":8},{"t":18.52,"v":1.7,"s":8},{"t":18.53,"v":1.5,"s":8},{"t":18.55,"v":2.4,"s":8},{"t":18.56,"v":3.2,"s":8},{"t":18.58,"v":3.9,"s":8},{"t":18.6,"v":3.0,"s":8},{"t":18.62,"v":2.8,"s":8},{"t":18.64,"v":2.5,"s":8},{"t":18.65,"v":2.2,"s":8},{"t":18.68,"v":1.7,"s":8},
{"t":18.77,"v":6.4,"s":9},{"t":18.79,"v":8.5,"s":9},{"t":18.81,"v":8.9,"s":9},{"t":18.83,"v":8.7,"s":9},{"t":18.84,"v":8.8,"s":9},{"t":18.86,"v":8.7,"s":9},{"t":18.87,"v":8.95,"s":9},{"t":18.89,"v":8.7,"s":9},{"t":18.9,"v":8.5,"s":9},{"t":18.92,"v":7.9,"s":9},{"t":18.93,"v":7.45,"s":9},{"t":18.95,"v":7.1,"s":9},{"t":18.96,"v":7.0,"s":9},{"t":18.98,"v":6.7,"s":9},{"t":19.0,"v":6.8,"s":9},{"t":19.02,"v":6.6,"s":9},{"t":19.04,"v":6.5,"s":9},{"t":19.06,"v":6.8,"s":9},{"t":19.08,"v":6.7,"s":9},{"t":19.1,"v":6.5,"s":9},{"t":19.12,"v":6.4,"s":9},{"t":19.14,"v":6.6,"s":9},{"t":19.16,"v":6.5,"s":9},{"t":19.18,"v":6.4,"s":9},{"t":19.2,"v":6.3,"s":9},{"t":19.22,"v":6.5,"s":9},{"t":19.24,"v":6.6,"s":9},{"t":19.26,"v":6.4,"s":9},{"t":19.28,"v":6.7,"s":9},{"t":19.3,"v":6.5,"s":9},{"t":19.31,"v":6.3,"s":9},{"t":19.32,"v":3.6,"s":9},{"t":19.33,"v":5.5,"s":9},{"t":19.34,"v":6.7,"s":9},{"t":19.36,"v":6.8,"s":9},{"t":19.37,"v":6.9,"s":9},{"t":19.39,"v":7.0,"s":9},{"t":19.41,"v":7.2,"s":9},{"t":19.42,"v":6.9,"s":9},{"t":19.44,"v":6.4,"s":9},{"t":19.46,"v":5.8,"s":9},{"t":19.47,"v":5.4,"s":9},{"t":19.49,"v":5.9,"s":9},{"t":19.5,"v":6.2,"s":9},{"t":19.52,"v":6.0,"s":9},{"t":19.53,"v":5.8,"s":9},{"t":19.55,"v":5.2,"s":9},{"t":19.56,"v":4.7,"s":9},{"t":19.58,"v":5.6,"s":9},{"t":19.6,"v":6.4,"s":9},{"t":19.62,"v":6.7,"s":9},{"t":19.63,"v":6.9,"s":9},{"t":19.65,"v":6.2,"s":9},{"t":19.66,"v":5.6,"s":9},{"t":19.68,"v":5.3,"s":9},{"t":19.69,"v":5.1,"s":9},{"t":19.7,"v":5.3,"s":9},{"t":19.72,"v":5.6,"s":9},{"t":19.74,"v":5.8,"s":9},{"t":19.75,"v":5.85,"s":9},{"t":19.77,"v":5.5,"s":9},{"t":19.78,"v":5.2,"s":9},{"t":19.8,"v":4.4,"s":9},{"t":19.82,"v":3.6,"s":9},{"t":19.84,"v":2.0,"s":9},{"t":19.86,"v":0.7,"s":9},{"t":19.87,"v":0.5,"s":9},{"t":19.88,"v":0.2,"s":9},{"t":19.9,"v":0.0,"s":9},{"t":19.91,"v":-0.5,"s":9},{"t":19.92,"v":-1.0,"s":9},
{"t":19.95,"v":3.7,"s":10},{"t":19.96,"v":3.3,"s":10},{"t":19.98,"v":3.0,"s":10},{"t":19.99,"v":3.2,"s":10},{"t":20.0,"v":3.3,"s":10},{"t":20.02,"v":3.1,"s":10},{"t":20.03,"v":2.9,"s":10},{"t":20.05,"v":3.05,"s":10},{"t":20.06,"v":3.2,"s":10},{"t":20.08,"v":2.9,"s":10},{"t":20.1,"v":3.0,"s":10},{"t":20.11,"v":2.8,"s":10},{"t":20.13,"v":2.6,"s":10},{"t":20.15,"v":2.7,"s":10},{"t":20.16,"v":2.9,"s":10},{"t":20.18,"v":3.0,"s":10},{"t":20.2,"v":3.0,"s":10},{"t":20.21,"v":2.7,"s":10},{"t":20.23,"v":2.5,"s":10},{"t":20.25,"v":2.6,"s":10},{"t":20.26,"v":2.8,"s":10},{"t":20.28,"v":2.4,"s":10},{"t":20.29,"v":2.1,"s":10},{"t":20.31,"v":1.8,"s":10},{"t":20.32,"v":1.6,"s":10},{"t":20.34,"v":2.0,"s":10},{"t":20.35,"v":2.5,"s":10},{"t":20.37,"v":2.1,"s":10},{"t":20.38,"v":1.8,"s":10},{"t":20.4,"v":2.0,"s":10},{"t":20.42,"v":2.3,"s":10},{"t":20.43,"v":1.9,"s":10},{"t":20.45,"v":1.5,"s":10},{"t":20.47,"v":1.7,"s":10},{"t":20.48,"v":1.9,"s":10},{"t":20.5,"v":2.0,"s":10},{"t":20.52,"v":2.2,"s":10},{"t":20.54,"v":2.0,"s":10},{"t":20.56,"v":1.7,"s":10},{"t":20.58,"v":2.4,"s":10},{"t":20.6,"v":3.2,"s":10},{"t":20.62,"v":3.6,"s":10},{"t":20.64,"v":3.9,"s":10},{"t":20.65,"v":3.5,"s":10},{"t":20.67,"v":3.0,"s":10},{"t":20.68,"v":2.5,"s":10},{"t":20.7,"v":1.9,"s":10},{"t":20.72,"v":2.0,"s":10},{"t":20.73,"v":2.1,"s":10},{"t":20.75,"v":2.6,"s":10},{"t":20.77,"v":3.1,"s":10},{"t":20.78,"v":3.2,"s":10},{"t":20.8,"v":3.3,"s":10},{"t":20.82,"v":3.0,"s":10},{"t":20.84,"v":2.8,"s":10},{"t":20.86,"v":2.5,"s":10},{"t":20.87,"v":2.2,"s":10},{"t":20.89,"v":2.7,"s":10},{"t":20.9,"v":3.2,"s":10},{"t":20.92,"v":3.1,"s":10},{"t":20.93,"v":3.3,"s":10},{"t":20.95,"v":2.9,"s":10},{"t":20.97,"v":2.5,"s":10},{"t":20.99,"v":2.2,"s":10},{"t":21.01,"v":2.0,"s":10},{"t":21.03,"v":1.6,"s":10},{"t":21.04,"v":1.2,"s":10},{"t":21.06,"v":0.6,"s":10},{"t":21.07,"v":0.3,"s":10},{"t":21.09,"v":-0.8,"s":10},{"t":21.1,"v":-1.8,"s":10},{"t":21.11,"v":-1.0,"s":10},{"t":21.13,"v":-0.3,"s":10},{"t":21.14,"v":0.0,"s":10},{"t":21.16,"v":0.1,"s":10},{"t":21.17,"v":-0.2,"s":10},{"t":21.19,"v":0.4,"s":10},{"t":21.2,"v":0.1,"s":10},{"t":21.22,"v":-0.3,"s":10},{"t":21.23,"v":0.2,"s":10},{"t":21.25,"v":0.7,"s":10},{"t":21.26,"v":0.2,"s":10},{"t":21.28,"v":-0.2,"s":10},{"t":21.29,"v":0.0,"s":10},{"t":21.31,"v":0.1,"s":10},{"t":21.33,"v":-0.1,"s":10},{"t":21.35,"v":-0.3,"s":10},{"t":21.36,"v":0.0,"s":10},{"t":21.38,"v":0.2,"s":10},{"t":21.4,"v":3.05,"s":10},{"t":21.41,"v":1.5,"s":10},{"t":21.43,"v":0.5,"s":10},{"t":21.44,"v":2.6,"s":10},{"t":21.45,"v":0.8,"s":10},{"t":21.46,"v":-0.2,"s":10},{"t":21.48,"v":0.4,"s":10},{"t":21.49,"v":2.5,"s":10},{"t":21.5,"v":1.8,"s":10},{"t":21.51,"v":1.5,"s":10},{"t":21.52,"v":2.2,"s":10},{"t":21.53,"v":2.6,"s":10},{"t":21.54,"v":2.1,"s":10},{"t":21.56,"v":1.8,"s":10},{"t":21.57,"v":1.0,"s":10},{"t":21.58,"v":0.3,"s":10},{"t":21.6,"v":-0.1,"s":10},{"t":21.62,"v":0.1,"s":10},{"t":21.64,"v":0.0,"s":10},{"t":21.66,"v":1.2,"s":10},{"t":21.67,"v":2.7,"s":10},{"t":21.68,"v":2.0,"s":10},
{"t":21.74,"v":0.1,"s":11},{"t":21.75,"v":-0.3,"s":11},{"t":21.76,"v":0.2,"s":11},{"t":21.77,"v":-0.6,"s":11},{"t":21.78,"v":-1.0,"s":11},{"t":21.79,"v":0.0,"s":11},{"t":21.8,"v":-1.7,"s":11},{"t":21.81,"v":-0.8,"s":11},{"t":21.82,"v":-0.5,"s":11},{"t":21.83,"v":-2.0,"s":11},{"t":21.84,"v":-2.5,"s":11},{"t":21.85,"v":-1.6,"s":11},{"t":21.86,"v":-2.0,"s":11},{"t":21.87,"v":-1.2,"s":11},{"t":21.88,"v":-0.3,"s":11},{"t":21.89,"v":0.0,"s":11},{"t":21.9,"v":-0.6,"s":11},{"t":21.91,"v":-0.4,"s":11},{"t":21.93,"v":0.2,"s":11},{"t":21.94,"v":0.0,"s":11},{"t":21.96,"v":-0.2,"s":11},{"t":21.97,"v":0.1,"s":11},{"t":21.99,"v":0.0,"s":11},{"t":22.0,"v":0.1,"s":11},{"t":22.01,"v":-0.2,"s":11},{"t":22.02,"v":1.3,"s":11},{"t":22.03,"v":-1.3,"s":11},{"t":22.04,"v":0.0,"s":11},{"t":22.05,"v":0.2,"s":11},{"t":22.07,"v":-0.2,"s":11},{"t":22.08,"v":0.1,"s":11},{"t":22.1,"v":0.3,"s":11},{"t":22.11,"v":-0.1,"s":11},{"t":22.13,"v":0.2,"s":11},{"t":22.14,"v":-0.2,"s":11},{"t":22.16,"v":0.1,"s":11},{"t":22.17,"v":0.2,"s":11},{"t":22.19,"v":-0.1,"s":11},{"t":22.2,"v":0.0,"s":11},{"t":22.22,"v":0.2,"s":11},{"t":22.23,"v":-0.1,"s":11},{"t":22.25,"v":0.1,"s":11},{"t":22.26,"v":-0.1,"s":11},{"t":22.28,"v":0.0,"s":11}
 ]
},
"layer":[
 {"data":{"name":"notes"},
  "transform":[{"filter":"datum.note != 'fa#' && datum.note != 're'"}],
  "mark":{"type":"rule","strokeWidth":1.8},
  "encoding":{
   "y":{"field":"v","type":"quantitative","scale":{"domain":[-2,12],"nice":false,"zero":false},"axis":{"title":null,"values":[-2,-1,0,1,2,3,4,5,5.5,6,7,8,9,10,11,12],"tickCount":16,"format":".1~f","domainColor":"#4e7d3f","domainWidth":3.5,"grid":true,"labelPadding":2,"labelFont":"Liberation Serif","labelFontSize":12}},
   "color":{"field":"note","type":"nominal","legend":null,"scale":{"domain":["si","la","sol","fa#","fa½#","mi","re","do"],"range":["#e5407a","#e5407a","#34357f","#e03570","#3f8b3a","#e04a95","#80302c","#e8482c"]}},
   "strokeDash":{"field":"note","type":"nominal","legend":null,"scale":{"domain":["si","la","sol","fa#","fa½#","mi","re","do"],"range":[[6,3],[6,3],[1,0],[8,4],[6,3],[5,2],[6,3],[1,0]]}}
  }},
 {"data":{"name":"notes"},
  "transform":[{"filter":"datum.note == 'fa#' || datum.note == 're'"}],
  "mark":{"type":"rule","strokeWidth":2.8},
  "encoding":{
   "y":{"field":"v","type":"quantitative","scale":{"domain":[-2,12],"nice":false,"zero":false},"axis":{"title":null,"values":[-2,-1,0,1,2,3,4,5,5.5,6,7,8,9,10,11,12],"tickCount":16,"format":".1~f","domainColor":"#4e7d3f","domainWidth":3.5,"grid":true,"labelPadding":2,"labelFont":"Liberation Serif","labelFontSize":12}},
   "color":{"field":"note","type":"nominal","legend":null,"scale":{"domain":["si","la","sol","fa#","fa½#","mi","re","do"],"range":["#e5407a","#e5407a","#34357f","#e03570","#3f8b3a","#e04a95","#80302c","#e8482c"]}},
   "strokeDash":{"field":"note","type":"nominal","legend":null,"scale":{"domain":["si","la","sol","fa#","fa½#","mi","re","do"],"range":[[6,3],[6,3],[1,0],[8,4],[6,3],[5,2],[6,3],[1,0]]}}
  }},
 {"data":{"name":"arrow"},
  "mark":{"type":"line","color":"#a7c3df","strokeWidth":5,"interpolate":"monotone","strokeCap":"round","opacity":0.9},
  "encoding":{
   "x":{"field":"t","type":"quantitative","scale":{"domain":[0,22.41],"nice":false,"zero":false},"axis":{"title":"Time (s)","values":[0,2,4,6,8,10,12,14,16,18,20,22,22.41],"tickCount":13,"format":".2~f","labelOverlap":false,"labelFlush":false,"labelBound":false,"domainColor":"#8f8f8f","domainWidth":1.5,"grid":true,"labelPadding":2,"titlePadding":0,"labelFont":"Liberation Serif","labelFontSize":12}},
   "y":{"field":"v","type":"quantitative","scale":{"domain":[-2,12],"nice":false,"zero":false},"axis":{"title":null,"values":[-2,-1,0,1,2,3,4,5,5.5,6,7,8,9,10,11,12],"tickCount":16,"format":".1~f","domainColor":"#4e7d3f","domainWidth":3.5,"grid":true,"labelPadding":2,"labelFont":"Liberation Serif","labelFontSize":12}}
  }},
 {"data":{"name":"tip"},
  "mark":{"type":"point","shape":"M-1,-0.6L0,0L-1,0.6","size":1156,"filled":false,"stroke":"#a7c3df","strokeWidth":5,"opacity":0.9,"strokeCap":"round","strokeJoin":"round"},
  "encoding":{
   "x":{"field":"t","type":"quantitative","scale":{"domain":[0,22.41],"nice":false,"zero":false},"axis":{"title":"Time (s)","values":[0,2,4,6,8,10,12,14,16,18,20,22,22.41],"tickCount":13,"format":".2~f","labelOverlap":false,"labelFlush":false,"labelBound":false,"domainColor":"#8f8f8f","domainWidth":1.5,"grid":true,"labelPadding":2,"titlePadding":0,"labelFont":"Liberation Serif","labelFontSize":12}},
   "y":{"field":"v","type":"quantitative","scale":{"domain":[-2,12],"nice":false,"zero":false},"axis":{"title":null,"values":[-2,-1,0,1,2,3,4,5,5.5,6,7,8,9,10,11,12],"tickCount":16,"format":".1~f","domainColor":"#4e7d3f","domainWidth":3.5,"grid":true,"labelPadding":2,"labelFont":"Liberation Serif","labelFontSize":12}}
  }},
 {"data":{"name":"trace"},
  "mark":{"type":"line","color":"#111111","strokeWidth":1.25},
  "encoding":{
   "x":{"field":"t","type":"quantitative","scale":{"domain":[0,22.41],"nice":false,"zero":false},"axis":{"title":"Time (s)","values":[0,2,4,6,8,10,12,14,16,18,20,22,22.41],"tickCount":13,"format":".2~f","labelOverlap":false,"labelFlush":false,"labelBound":false,"domainColor":"#8f8f8f","domainWidth":1.5,"grid":true,"labelPadding":2,"titlePadding":0,"labelFont":"Liberation Serif","labelFontSize":12}},
   "y":{"field":"v","type":"quantitative","scale":{"domain":[-2,12],"nice":false,"zero":false},"axis":{"title":null,"values":[-2,-1,0,1,2,3,4,5,5.5,6,7,8,9,10,11,12],"tickCount":16,"format":".1~f","domainColor":"#4e7d3f","domainWidth":3.5,"grid":true,"labelPadding":2,"labelFont":"Liberation Serif","labelFontSize":12}},
   "detail":{"field":"s","type":"nominal"}
  }},
 {"data":{"name":"ellipses"},
  "transform":[{"filter":"datum.id == 1"}],
  "mark":{"type":"point","shape":"M-1,0C-1,-0.163,-0.552,-0.295,0,-0.295C0.552,-0.295,1,-0.163,1,0C1,0.163,0.552,0.295,0,0.295C-0.552,0.295,-1,0.163,-1,0Z","size":12544,"filled":false,"stroke":"#4a4e6a","strokeWidth":1,"strokeDash":[5,3],"opacity":1},
  "encoding":{
   "x":{"field":"t","type":"quantitative","scale":{"domain":[0,22.41],"nice":false,"zero":false},"axis":{"title":"Time (s)","values":[0,2,4,6,8,10,12,14,16,18,20,22,22.41],"tickCount":13,"format":".2~f","labelOverlap":false,"labelFlush":false,"labelBound":false,"domainColor":"#8f8f8f","domainWidth":1.5,"grid":true,"labelPadding":2,"titlePadding":0,"labelFont":"Liberation Serif","labelFontSize":12}},
   "y":{"field":"v","type":"quantitative","scale":{"domain":[-2,12],"nice":false,"zero":false},"axis":{"title":null,"values":[-2,-1,0,1,2,3,4,5,5.5,6,7,8,9,10,11,12],"tickCount":16,"format":".1~f","domainColor":"#4e7d3f","domainWidth":3.5,"grid":true,"labelPadding":2,"labelFont":"Liberation Serif","labelFontSize":12}}
  }},
 {"data":{"name":"ellipses"},
  "transform":[{"filter":"datum.id == 2"}],
  "mark":{"type":"point","shape":"M-1,0C-1,-0.138,-0.552,-0.25,0,-0.25C0.552,-0.25,1,-0.138,1,0C1,0.138,0.552,0.25,0,0.25C-0.552,0.25,-1,0.138,-1,0Z","size":28023,"filled":false,"stroke":"#4a4e6a","strokeWidth":1,"strokeDash":[5,3],"opacity":1},
  "encoding":{
   "x":{"field":"t","type":"quantitative","scale":{"domain":[0,22.41],"nice":false,"zero":false},"axis":{"title":"Time (s)","values":[0,2,4,6,8,10,12,14,16,18,20,22,22.41],"tickCount":13,"format":".2~f","labelOverlap":false,"labelFlush":false,"labelBound":false,"domainColor":"#8f8f8f","domainWidth":1.5,"grid":true,"labelPadding":2,"titlePadding":0,"labelFont":"Liberation Serif","labelFontSize":12}},
   "y":{"field":"v","type":"quantitative","scale":{"domain":[-2,12],"nice":false,"zero":false},"axis":{"title":null,"values":[-2,-1,0,1,2,3,4,5,5.5,6,7,8,9,10,11,12],"tickCount":16,"format":".1~f","domainColor":"#4e7d3f","domainWidth":3.5,"grid":true,"labelPadding":2,"labelFont":"Liberation Serif","labelFontSize":12}}
  }},
 {"data":{"name":"ellipses"},
  "transform":[{"filter":"datum.id >= 3"}],
  "mark":{"type":"point","shape":"M-1,0C-1,-0.105,-0.552,-0.19,0,-0.19C0.552,-0.19,1,-0.105,1,0C1,0.105,0.552,0.19,0,0.19C-0.552,0.19,-1,0.105,-1,0Z","size":30760,"filled":false,"stroke":"#4a4e6a","strokeWidth":1,"strokeDash":[5,3],"opacity":1},
  "encoding":{
   "x":{"field":"t","type":"quantitative","scale":{"domain":[0,22.41],"nice":false,"zero":false},"axis":{"title":"Time (s)","values":[0,2,4,6,8,10,12,14,16,18,20,22,22.41],"tickCount":13,"format":".2~f","labelOverlap":false,"labelFlush":false,"labelBound":false,"domainColor":"#8f8f8f","domainWidth":1.5,"grid":true,"labelPadding":2,"titlePadding":0,"labelFont":"Liberation Serif","labelFontSize":12}},
   "y":{"field":"v","type":"quantitative","scale":{"domain":[-2,12],"nice":false,"zero":false},"axis":{"title":null,"values":[-2,-1,0,1,2,3,4,5,5.5,6,7,8,9,10,11,12],"tickCount":16,"format":".1~f","domainColor":"#4e7d3f","domainWidth":3.5,"grid":true,"labelPadding":2,"labelFont":"Liberation Serif","labelFontSize":12}}
  }},
 {"data":{"name":"labels"},
  "mark":{"type":"rule","color":"#9aa0ae","strokeWidth":1.2},
  "encoding":{
   "x":{"field":"cx1","type":"quantitative","scale":{"domain":[0,22.41],"nice":false,"zero":false},"axis":{"title":"Time (s)","values":[0,2,4,6,8,10,12,14,16,18,20,22,22.41],"tickCount":13,"format":".2~f","labelOverlap":false,"labelFlush":false,"labelBound":false,"domainColor":"#8f8f8f","domainWidth":1.5,"grid":true,"labelPadding":2,"titlePadding":0,"labelFont":"Liberation Serif","labelFontSize":12}},
   "x2":{"field":"cx2"},
   "y":{"field":"cy1","type":"quantitative","scale":{"domain":[-2,12],"nice":false,"zero":false},"axis":{"title":null,"values":[-2,-1,0,1,2,3,4,5,5.5,6,7,8,9,10,11,12],"tickCount":16,"format":".1~f","domainColor":"#4e7d3f","domainWidth":3.5,"grid":true,"labelPadding":2,"labelFont":"Liberation Serif","labelFontSize":12}},
   "y2":{"field":"cy2"}
  }},
 {"data":{"name":"labels"},
  "mark":{"type":"rule","color":"#b8bcc6","strokeWidth":1.2,"xOffset":3,"yOffset":4},
  "encoding":{
   "x":{"field":"bx2","type":"quantitative","scale":{"domain":[0,22.41],"nice":false,"zero":false},"axis":{"title":"Time (s)","values":[0,2,4,6,8,10,12,14,16,18,20,22,22.41],"tickCount":13,"format":".2~f","labelOverlap":false,"labelFlush":false,"labelBound":false,"domainColor":"#8f8f8f","domainWidth":1.5,"grid":true,"labelPadding":2,"titlePadding":0,"labelFont":"Liberation Serif","labelFontSize":12}},
   "y":{"field":"by1","type":"quantitative","scale":{"domain":[-2,12],"nice":false,"zero":false},"axis":{"title":null,"values":[-2,-1,0,1,2,3,4,5,5.5,6,7,8,9,10,11,12],"tickCount":16,"format":".1~f","domainColor":"#4e7d3f","domainWidth":3.5,"grid":true,"labelPadding":2,"labelFont":"Liberation Serif","labelFontSize":12}},
   "y2":{"field":"by2"}
  }},
 {"data":{"name":"labels"},
  "mark":{"type":"rect","fill":"white","stroke":"#aeb2bf","strokeWidth":1.3},
  "encoding":{
   "x":{"field":"bx1","type":"quantitative","scale":{"domain":[0,22.41],"nice":false,"zero":false},"axis":{"title":"Time (s)","values":[0,2,4,6,8,10,12,14,16,18,20,22,22.41],"tickCount":13,"format":".2~f","labelOverlap":false,"labelFlush":false,"labelBound":false,"domainColor":"#8f8f8f","domainWidth":1.5,"grid":true,"labelPadding":2,"titlePadding":0,"labelFont":"Liberation Serif","labelFontSize":12}},
   "x2":{"field":"bx2"},
   "y":{"field":"by1","type":"quantitative","scale":{"domain":[-2,12],"nice":false,"zero":false},"axis":{"title":null,"values":[-2,-1,0,1,2,3,4,5,5.5,6,7,8,9,10,11,12],"tickCount":16,"format":".1~f","domainColor":"#4e7d3f","domainWidth":3.5,"grid":true,"labelPadding":2,"labelFont":"Liberation Serif","labelFontSize":12}},
   "y2":{"field":"by2"}
  }},
 {"data":{"name":"labels"},
  "mark":{"type":"text","font":"Lato","fontStyle":"italic","fontSize":16,"color":"#4b4f63","align":"right","baseline":"middle"},
  "encoding":{
   "x":{"field":"jx","type":"quantitative","scale":{"domain":[0,22.41],"nice":false,"zero":false},"axis":{"title":"Time (s)","values":[0,2,4,6,8,10,12,14,16,18,20,22,22.41],"tickCount":13,"format":".2~f","labelOverlap":false,"labelFlush":false,"labelBound":false,"domainColor":"#8f8f8f","domainWidth":1.5,"grid":true,"labelPadding":2,"titlePadding":0,"labelFont":"Liberation Serif","labelFontSize":12}},
   "y":{"field":"ty","type":"quantitative","scale":{"domain":[-2,12],"nice":false,"zero":false},"axis":{"title":null,"values":[-2,-1,0,1,2,3,4,5,5.5,6,7,8,9,10,11,12],"tickCount":16,"format":".1~f","domainColor":"#4e7d3f","domainWidth":3.5,"grid":true,"labelPadding":2,"labelFont":"Liberation Serif","labelFontSize":12}},
   "text":{"field":"label"}
  }},
 {"data":{"name":"labels"},
  "mark":{"type":"text","font":"Lato","fontStyle":"italic","fontSize":10,"color":"#4b4f63","align":"left","baseline":"middle","dy":-6,"dx":0.5},
  "encoding":{
   "x":{"field":"jx","type":"quantitative","scale":{"domain":[0,22.41],"nice":false,"zero":false},"axis":{"title":"Time (s)","values":[0,2,4,6,8,10,12,14,16,18,20,22,22.41],"tickCount":13,"format":".2~f","labelOverlap":false,"labelFlush":false,"labelBound":false,"domainColor":"#8f8f8f","domainWidth":1.5,"grid":true,"labelPadding":2,"titlePadding":0,"labelFont":"Liberation Serif","labelFontSize":12}},
   "y":{"field":"ty","type":"quantitative","scale":{"domain":[-2,12],"nice":false,"zero":false},"axis":{"title":null,"values":[-2,-1,0,1,2,3,4,5,5.5,6,7,8,9,10,11,12],"tickCount":16,"format":".1~f","domainColor":"#4e7d3f","domainWidth":3.5,"grid":true,"labelPadding":2,"labelFont":"Liberation Serif","labelFontSize":12}},
   "text":{"field":"sup"}
  }}
]
}
